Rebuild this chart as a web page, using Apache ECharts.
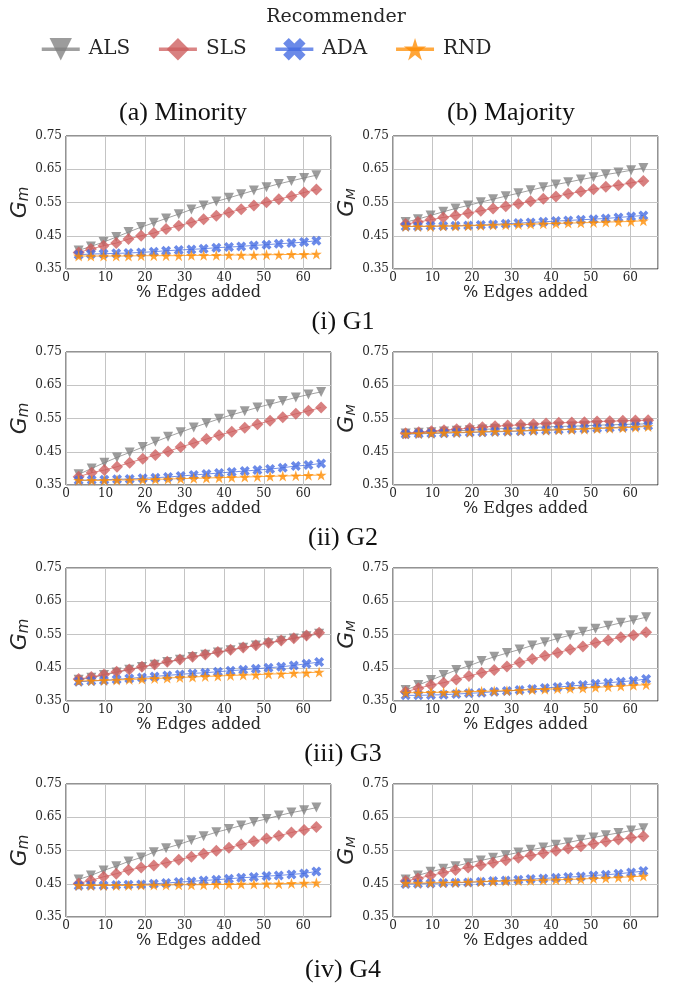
<!DOCTYPE html>
<html>
<head>
<meta charset="utf-8">
<script src="https://cdn.jsdelivr.net/npm/echarts@6/dist/echarts.min.js"></script>
<style>html,body{margin:0;padding:0;background:#fff}#c{width:673px;height:988px}</style>
</head>
<body>
<div id="c"></div>
<script>
// ---- data ----
const seriesNames = ['ALS', 'SLS', 'ADA', 'RND'];
const graphNames = ['(i) G1', '(ii) G2', '(iii) G3', '(iv) G4'];
const colTitles = ['(a) Minority', '(b) Majority'];
const yTicks = [0.35, 0.45, 0.55, 0.65, 0.75];
const xTicks = [0, 10, 20, 30, 40, 50, 60];

const xG1 = [3.2, 6.3, 9.5, 12.7, 15.8, 19.0, 22.2, 25.3, 28.5, 31.7, 34.8, 38.0, 41.2, 44.3, 47.5, 50.7, 53.8, 57.0, 60.2, 63.3];
const xG2 = [3.2, 6.5, 9.7, 12.9, 16.1, 19.4, 22.6, 25.8, 29.0, 32.3, 35.5, 38.7, 41.9, 45.2, 48.4, 51.6, 54.8, 58.1, 61.3, 64.5];
const xG3 = [3.2, 6.4, 9.6, 12.8, 16.0, 19.2, 22.4, 25.6, 28.8, 32.0, 35.2, 38.4, 41.6, 44.8, 48.0, 51.2, 54.4, 57.6, 60.8, 64.0];
const xG4 = [3.2, 6.3, 9.5, 12.7, 15.8, 19.0, 22.2, 25.3, 28.5, 31.7, 34.8, 38.0, 41.2, 44.3, 47.5, 50.7, 53.8, 57.0, 60.2, 63.3];

// G1
const g1MinALS = [0.406, 0.418, 0.431, 0.446, 0.461, 0.476, 0.489, 0.502, 0.515, 0.529, 0.541, 0.553, 0.564, 0.575, 0.586, 0.596, 0.606, 0.615, 0.624, 0.632];
const g1MinSLS = [0.400, 0.410, 0.420, 0.428, 0.440, 0.450, 0.458, 0.470, 0.480, 0.490, 0.500, 0.510, 0.520, 0.530, 0.541, 0.551, 0.560, 0.569, 0.580, 0.589];
const g1MinADA = [0.393, 0.395, 0.396, 0.397, 0.398, 0.400, 0.402, 0.405, 0.407, 0.409, 0.411, 0.414, 0.416, 0.418, 0.421, 0.423, 0.426, 0.428, 0.431, 0.435];
const g1MinRND = [0.389, 0.389, 0.389, 0.389, 0.389, 0.390, 0.390, 0.390, 0.390, 0.391, 0.391, 0.391, 0.392, 0.392, 0.392, 0.393, 0.393, 0.394, 0.394, 0.395];
const g1MajALS = [0.491, 0.500, 0.511, 0.522, 0.532, 0.541, 0.551, 0.560, 0.569, 0.578, 0.587, 0.596, 0.604, 0.611, 0.619, 0.626, 0.634, 0.640, 0.647, 0.654];
const g1MajSLS = [0.485, 0.491, 0.498, 0.505, 0.511, 0.518, 0.525, 0.532, 0.539, 0.546, 0.554, 0.561, 0.568, 0.576, 0.583, 0.590, 0.597, 0.602, 0.609, 0.615];
const g1MajADA = [0.478, 0.478, 0.479, 0.479, 0.480, 0.481, 0.482, 0.484, 0.486, 0.488, 0.490, 0.492, 0.494, 0.496, 0.498, 0.500, 0.502, 0.505, 0.508, 0.511];
const g1MajRND = [0.478, 0.478, 0.478, 0.479, 0.479, 0.480, 0.481, 0.482, 0.483, 0.484, 0.485, 0.486, 0.487, 0.488, 0.489, 0.490, 0.491, 0.492, 0.493, 0.495];
// G2
const g2MinALS = [0.382, 0.400, 0.417, 0.433, 0.448, 0.464, 0.480, 0.495, 0.509, 0.523, 0.536, 0.549, 0.561, 0.572, 0.583, 0.593, 0.603, 0.613, 0.622, 0.630];
const g2MinSLS = [0.375, 0.387, 0.395, 0.405, 0.417, 0.429, 0.440, 0.451, 0.464, 0.476, 0.488, 0.500, 0.510, 0.522, 0.533, 0.543, 0.554, 0.564, 0.573, 0.583];
const g2MinADA = [0.364, 0.365, 0.366, 0.367, 0.368, 0.370, 0.372, 0.374, 0.377, 0.380, 0.383, 0.386, 0.389, 0.392, 0.395, 0.398, 0.402, 0.407, 0.410, 0.415];
const g2MinRND = [0.364, 0.364, 0.364, 0.365, 0.365, 0.366, 0.367, 0.368, 0.369, 0.370, 0.371, 0.372, 0.373, 0.374, 0.375, 0.376, 0.377, 0.378, 0.379, 0.380];
const g2MajALS = [0.505, 0.507, 0.509, 0.511, 0.513, 0.515, 0.517, 0.519, 0.520, 0.522, 0.523, 0.525, 0.526, 0.527, 0.528, 0.530, 0.531, 0.532, 0.533, 0.534];
const g2MajSLS = [0.506, 0.509, 0.512, 0.515, 0.518, 0.521, 0.524, 0.527, 0.529, 0.531, 0.533, 0.535, 0.537, 0.538, 0.539, 0.541, 0.542, 0.543, 0.544, 0.545];
const g2MajADA = [0.503, 0.504, 0.505, 0.506, 0.507, 0.508, 0.509, 0.510, 0.511, 0.512, 0.514, 0.515, 0.516, 0.518, 0.519, 0.521, 0.522, 0.524, 0.526, 0.528];
const g2MajRND = [0.504, 0.505, 0.506, 0.507, 0.508, 0.509, 0.510, 0.511, 0.512, 0.513, 0.514, 0.515, 0.516, 0.517, 0.518, 0.520, 0.521, 0.522, 0.524, 0.526];
// G3
const g3MinALS = [0.414, 0.420, 0.428, 0.436, 0.444, 0.452, 0.459, 0.467, 0.474, 0.482, 0.489, 0.496, 0.503, 0.510, 0.517, 0.524, 0.531, 0.538, 0.545, 0.552];
const g3MinSLS = [0.416, 0.422, 0.430, 0.438, 0.445, 0.453, 0.460, 0.468, 0.475, 0.483, 0.490, 0.497, 0.504, 0.511, 0.518, 0.525, 0.532, 0.539, 0.547, 0.555];
const g3MinADA = [0.408, 0.410, 0.412, 0.415, 0.418, 0.421, 0.424, 0.427, 0.430, 0.433, 0.435, 0.438, 0.441, 0.444, 0.447, 0.450, 0.453, 0.457, 0.462, 0.467];
const g3MinRND = [0.410, 0.411, 0.412, 0.413, 0.415, 0.416, 0.418, 0.419, 0.421, 0.422, 0.424, 0.425, 0.427, 0.428, 0.429, 0.431, 0.432, 0.434, 0.435, 0.437];
const g3MajALS = [0.383, 0.398, 0.413, 0.428, 0.443, 0.456, 0.470, 0.483, 0.494, 0.505, 0.517, 0.527, 0.538, 0.548, 0.558, 0.567, 0.576, 0.585, 0.593, 0.602];
const g3MajSLS = [0.378, 0.388, 0.398, 0.405, 0.415, 0.425, 0.435, 0.443, 0.454, 0.466, 0.476, 0.486, 0.495, 0.505, 0.514, 0.525, 0.533, 0.542, 0.548, 0.557];
const g3MajADA = [0.367, 0.367, 0.368, 0.369, 0.371, 0.373, 0.375, 0.378, 0.380, 0.383, 0.386, 0.389, 0.392, 0.395, 0.398, 0.402, 0.405, 0.408, 0.411, 0.416];
const g3MajRND = [0.375, 0.375, 0.376, 0.376, 0.377, 0.378, 0.379, 0.380, 0.381, 0.382, 0.384, 0.385, 0.387, 0.388, 0.389, 0.391, 0.393, 0.395, 0.397, 0.399];
// G4
const g4MinALS = [0.463, 0.475, 0.490, 0.503, 0.517, 0.529, 0.545, 0.557, 0.568, 0.581, 0.593, 0.605, 0.615, 0.625, 0.636, 0.645, 0.655, 0.664, 0.671, 0.679];
const g4MinSLS = [0.451, 0.460, 0.471, 0.480, 0.491, 0.499, 0.505, 0.513, 0.522, 0.531, 0.540, 0.549, 0.558, 0.568, 0.578, 0.586, 0.594, 0.604, 0.612, 0.621];
const g4MinADA = [0.444, 0.445, 0.445, 0.446, 0.447, 0.448, 0.450, 0.452, 0.455, 0.457, 0.460, 0.462, 0.465, 0.468, 0.470, 0.473, 0.475, 0.478, 0.481, 0.487];
const g4MinRND = [0.445, 0.445, 0.445, 0.445, 0.445, 0.446, 0.446, 0.446, 0.447, 0.447, 0.447, 0.448, 0.448, 0.449, 0.449, 0.450, 0.450, 0.451, 0.452, 0.453];
const g4MajALS = [0.463, 0.475, 0.486, 0.495, 0.503, 0.512, 0.520, 0.528, 0.536, 0.544, 0.552, 0.559, 0.567, 0.574, 0.582, 0.589, 0.596, 0.603, 0.610, 0.617];
const g4MajSLS = [0.458, 0.466, 0.475, 0.483, 0.491, 0.499, 0.506, 0.513, 0.521, 0.528, 0.535, 0.542, 0.549, 0.556, 0.563, 0.570, 0.577, 0.583, 0.588, 0.593];
const g4MajADA = [0.449, 0.450, 0.451, 0.452, 0.453, 0.454, 0.456, 0.458, 0.460, 0.462, 0.464, 0.466, 0.468, 0.470, 0.472, 0.475, 0.477, 0.480, 0.484, 0.488];
const g4MajRND = [0.452, 0.452, 0.453, 0.453, 0.454, 0.455, 0.456, 0.457, 0.458, 0.459, 0.460, 0.461, 0.462, 0.463, 0.464, 0.466, 0.467, 0.469, 0.471, 0.473];

// ---- panels (row, col) ----
const panels = [
  { x: xG1, sub: 'm', ys: [g1MinALS, g1MinSLS, g1MinADA, g1MinRND] },
  { x: xG1, sub: 'M', ys: [g1MajALS, g1MajSLS, g1MajADA, g1MajRND] },
  { x: xG2, sub: 'm', ys: [g2MinALS, g2MinSLS, g2MinADA, g2MinRND] },
  { x: xG2, sub: 'M', ys: [g2MajALS, g2MajSLS, g2MajADA, g2MajRND] },
  { x: xG3, sub: 'm', ys: [g3MinALS, g3MinSLS, g3MinADA, g3MinRND] },
  { x: xG3, sub: 'M', ys: [g3MajALS, g3MajSLS, g3MajADA, g3MajRND] },
  { x: xG4, sub: 'm', ys: [g4MinALS, g4MinSLS, g4MinADA, g4MinRND] },
  { x: xG4, sub: 'M', ys: [g4MajALS, g4MajSLS, g4MajADA, g4MajRND] }
];

// ---- styles ----
const SERIF = 'DejaVu Serif';
const TIMES = 'Liberation Serif';
const TXT = '#262626';
const colors = ['#808080', '#cd5c5c', '#4169e1', '#ff8c00'];
const XPATH = 'path://M-0.5,-1L0,-0.5L0.5,-1L1,-0.5L0.5,0L1,0.5L0.5,1L0,0.5L-0.5,1L-1,0.5L-0.5,0L-1,-0.5Z';
const STAR = 'path://M0,-1L0.2245,-0.309L0.951,-0.309L0.363,0.118L0.588,0.809L0,0.382L-0.588,0.809L-0.363,0.118L-0.951,-0.309L-0.2245,-0.309Z';
const symbols = ['triangle', 'diamond', XPATH, STAR];
const symRot = [180, 0, 0, 0];
const symSize = [10, 12, 10, 11];

const grids = [], xAxes = [], yAxes = [], series = [];
const colLeft = [66, 393];
const rowTop = [136, 352, 568, 784];
const gridLine = { show: true, lineStyle: { color: '#c4c4c4', width: 1 } };

panels.forEach((p, i) => {
  const r = Math.floor(i / 2), c = i % 2;
  grids.push({ left: colLeft[c], top: rowTop[r], width: 265, height: 133, show: true,
    borderColor: '#262626', borderWidth: 1, backgroundColor: 'transparent' });
  xAxes.push({ gridIndex: i, type: 'value', min: 0, max: 67, interval: 10,
    axisLine: { show: false }, axisTick: { show: false }, splitLine: gridLine,
    axisLabel: { fontFamily: SERIF, fontSize: 12, color: TXT, margin: 3,
      formatter: v => (xTicks.indexOf(v) >= 0 ? String(v) : '') },
    name: '% Edges added', nameLocation: 'middle', nameGap: 15,
    nameTextStyle: { fontFamily: SERIF, fontSize: 16, color: TXT } });
  yAxes.push({ gridIndex: i, type: 'value', min: 0.35, max: 0.75, interval: 0.1,
    axisLine: { show: false }, axisTick: { show: false }, splitLine: gridLine,
    axisLabel: { fontFamily: SERIF, fontSize: 12, color: TXT, margin: 4,
      formatter: v => v.toFixed(2) },
    name: '{g|G}{s|' + p.sub + '}', nameLocation: 'middle', nameGap: 31,
    nameTextStyle: { rich: {
      g: { fontFamily: 'DejaVu Sans', fontStyle: 'italic', fontSize: 22, color: TXT },
      s: { fontFamily: 'DejaVu Sans', fontStyle: 'italic', fontSize: p.sub === 'm' ? 15 : 13, color: TXT, verticalAlign: 'bottom' }
    } } });
  p.ys.forEach((ys, k) => {
    series.push({
      name: seriesNames[k], type: 'line', xAxisIndex: i, yAxisIndex: i,
      data: p.x.map((xv, j) => [xv, ys[j]]),
      symbol: symbols[k], symbolSize: symSize[k], symbolRotate: symRot[k],
      showSymbol: true, animation: false,
      itemStyle: { color: colors[k], opacity: 0.78 },
      lineStyle: { color: colors[k], width: 1, opacity: 0.75 },
      emphasis: { disabled: true }, z: 2 + k
    });
  });
});

const titleStyle = (text) => ({ text: text, fontFamily: TIMES, fontSize: 26, fill: '#111', align: 'center', verticalAlign: 'middle' });
const graphics = [
  { type: 'text', x: 336, y: 17, style: { text: 'Recommender', fontFamily: SERIF, fontSize: 19, fill: TXT, align: 'center', verticalAlign: 'middle' } },
  { type: 'text', x: 183, y: 113, style: titleStyle(colTitles[0]) },
  { type: 'text', x: 511, y: 113, style: titleStyle(colTitles[1]) }
];
graphNames.forEach((g, r) => {
  graphics.push({ type: 'text', x: 343, y: 322 + 216 * r, style: titleStyle(g) });
});

const chart = echarts.init(document.getElementById('c'), null, { renderer: 'canvas' });
chart.setOption({
  backgroundColor: '#fff',
  animation: false,
  legend: {
    data: seriesNames, left: 40, top: 38, padding: 0, itemWidth: 38, itemHeight: 28, itemGap: 27,
    textStyle: { fontFamily: SERIF, fontSize: 20, color: TXT, padding: [0, 0, 0, 4] },
    lineStyle: { width: 3.5 }
  },
  grid: grids, xAxis: xAxes, yAxis: yAxes, series: series, graphic: graphics
});
</script>
</body>
</html>
